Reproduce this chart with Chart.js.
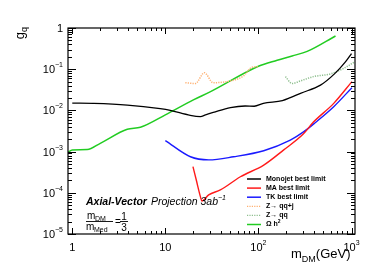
<!DOCTYPE html>
<html>
<head>
<meta charset="utf-8">
<script src="https://cdn.jsdelivr.net/npm/chart.js@4"></script>
<style>
  body { margin: 0; background: #fff; }
  canvas { display: block; }
</style>
</head>
<body>
<canvas id="limitChart" width="374" height="270"></canvas>
<script>
// Axial-vector coupling limits vs DM mass

var monojetMass = [1, 1.7, 3.9, 8.8, 11.3, 18.5, 23.8, 27, 32.7, 50, 72, 90, 113, 181, 220, 283, 464, 660, 860, 1000];
var monojetG = [0.015, 0.0148, 0.0135, 0.011, 0.010, 0.0076, 0.0071, 0.0078, 0.0089, 0.0117, 0.0128, 0.0126, 0.0148, 0.0173, 0.0204, 0.026, 0.041, 0.078, 0.15, 0.24];

var maMass = [19.8, 21.5, 23.8, 24.7, 29.2, 39, 64, 114, 187, 305, 390, 644, 1010];
var maG = [0.00043, 0.000204, 0.000081, 0.000063, 0.000089, 0.000117, 0.000245, 0.00047, 0.0011, 0.0027, 0.0052, 0.0148, 0.05];

var tkMass = [10, 18.6, 29.2, 54, 114, 220, 305, 410, 644, 1010];
var tkG = [0.00185, 0.00075, 0.00063, 0.00075, 0.00105, 0.0019, 0.0030, 0.0051, 0.0123, 0.0356];

var zqqjMass = [16.4, 21, 26.3, 32.6, 50, 69, 85, 100];
var zqqjG = [0.047, 0.045, 0.082, 0.047, 0.052, 0.068, 0.111, 0.115];

var zqqMass = [195, 230, 283, 390, 593, 825, 1090];
var zqqG = [0.066, 0.045, 0.052, 0.066, 0.077, 0.105, 0.152];

var relicMass = [0.9, 1, 1.45, 2, 3.9, 5.4, 10, 20, 30.6, 100, 159, 230, 334, 673];
var relicG = [0.00096, 0.0011, 0.00112, 0.00159, 0.0035, 0.0039, 0.0078, 0.018, 0.0285, 0.118, 0.165, 0.21, 0.27, 0.64];

var xTicks = [1, 10, 100, 1000];
var xTickBase = ['1', '10', '10', '10'];
var xTickExp = ['', '', '2', '3'];
var yTicks = [1, 0.1, 0.01, 0.001, 0.0001, 0.00001];
var yTickBase = ['1', '10', '10', '10', '10', '10'];
var yTickExp = ['', '\u22121', '\u22122', '\u22123', '\u22124', '\u22125'];

function pts(xs, ys) {
    return xs.map(function (x, i) { return { x: x, y: ys[i] }; });
}

var FONT = '"Liberation Sans", Arial, sans-serif';

function drawSup(ctx, base, exp, x, y, size, align) {
    ctx.font = size + 'px ' + FONT;
    var wb = ctx.measureText(base).width;
    ctx.font = Math.round(size * 0.65) + 'px ' + FONT;
    var we = exp ? ctx.measureText(exp).width : 0;
    var total = wb + we;
    var x0 = align === 'right' ? x - total : (align === 'center' ? x - total / 2 : x);
    ctx.textAlign = 'left';
    ctx.textBaseline = 'middle';
    ctx.font = size + 'px ' + FONT;
    ctx.fillText(base, x0, y);
    if (exp) {
        ctx.font = Math.round(size * 0.65) + 'px ' + FONT;
        ctx.fillText(exp, x0 + wb, y - size * 0.45);
    }
}

var framePlugin = {
    id: 'frame',
    afterDraw: function (chart) {
        var ctx = chart.ctx;
        var a = chart.chartArea;
        var xs = chart.scales.x, ys = chart.scales.y;
        ctx.save();
        ctx.strokeStyle = '#000';
        ctx.fillStyle = '#000';
        ctx.lineWidth = 1.2;
        ctx.strokeRect(a.left, a.top, a.right - a.left, a.bottom - a.top);

        // x ticks (bottom and top)
        ctx.lineWidth = 1;
        ctx.beginPath();
        for (var d = 0; d < 4; d++) {
            for (var k = 1; k <= 9; k++) {
                var v = k * Math.pow(10, d);
                if (v < xs.min || v > xs.max) continue;
                var px = Math.round(xs.getPixelForValue(v)) + 0.5;
                var len = k === 1 ? 6 : 3;
                ctx.moveTo(px, a.bottom); ctx.lineTo(px, a.bottom - len);
                ctx.moveTo(px, a.top); ctx.lineTo(px, a.top + len);
            }
        }
        // y ticks (left and right)
        for (var e = -5; e <= 0; e++) {
            for (var m = 1; m <= 9; m++) {
                var vy = m * Math.pow(10, e);
                if (vy < ys.min || vy > ys.max * 1.0001) continue;
                var py = Math.round(ys.getPixelForValue(vy)) + 0.5;
                var ly = m === 1 ? 8 : 4;
                ctx.moveTo(a.left, py); ctx.lineTo(a.left + ly, py);
                ctx.moveTo(a.right, py); ctx.lineTo(a.right - ly, py);
            }
        }
        ctx.stroke();

        // tick labels
        xTicks.forEach(function (v, i) {
            drawSup(ctx, xTickBase[i], xTickExp[i], xs.getPixelForValue(v), 248, 11, 'center');
        });
        yTicks.forEach(function (v, i) {
            drawSup(ctx, yTickBase[i], yTickExp[i], a.left - 5, ys.getPixelForValue(v) + 1, 11, 'right');
        });

        // axis titles
        ctx.textBaseline = 'alphabetic';
        ctx.textAlign = 'left';
        ctx.font = '13px ' + FONT;
        var tx = 291;
        ctx.fillText('m', tx, 258);
        tx += ctx.measureText('m').width;
        ctx.font = '9px ' + FONT;
        ctx.fillText('DM', tx, 262);
        tx += ctx.measureText('DM').width;
        ctx.font = '13px ' + FONT;
        ctx.fillText('(GeV)', tx, 258);

        ctx.save();
        ctx.translate(24, 26);
        ctx.rotate(-Math.PI / 2);
        ctx.font = '13px ' + FONT;
        ctx.textAlign = 'right';
        ctx.fillText('g', -6, 0);
        ctx.font = '9px ' + FONT;
        ctx.textAlign = 'left';
        ctx.fillText('q', -6, 3);
        ctx.restore();

        // annotation
        ctx.textAlign = 'left';
        ctx.font = 'italic bold 10.5px ' + FONT;
        ctx.fillText('Axial-Vector', 86, 205);
        var w1 = ctx.measureText('Axial-Vector').width;
        ctx.font = 'italic 10.5px ' + FONT;
        ctx.fillText('Projection 3ab', 86 + w1 + 4, 205);
        var w2 = ctx.measureText('Projection 3ab').width;
        ctx.font = 'italic 7px ' + FONT;
        ctx.fillText('\u22121', 86 + w1 + 4 + w2, 200);

        ctx.font = '10px ' + FONT;
        ctx.fillText('m', 87, 219);
        ctx.font = '7px ' + FONT;
        ctx.fillText('DM', 95, 221);
        ctx.font = '10px ' + FONT;
        ctx.fillText('m', 86, 230);
        ctx.font = '7px ' + FONT;
        ctx.fillText('Med', 94, 232);
        ctx.fillRect(86, 221, 27, 0.9);
        ctx.font = '10px ' + FONT;
        ctx.fillText('=', 115, 225);
        ctx.textAlign = 'center';
        ctx.fillText('1', 124, 220);
        ctx.fillRect(120, 221, 8, 0.9);
        ctx.fillText('3', 124, 231);

        // legend
        ctx.textAlign = 'left';
        ctx.textBaseline = 'middle';
        ctx.font = 'bold 7px ' + FONT;
        chart.data.datasets.forEach(function (ds, i) {
            var ly = 179 + i * 9.1;
            ctx.strokeStyle = ds.borderColor;
            ctx.lineWidth = ds.borderDash ? 1.2 : 1.5;
            ctx.setLineDash(ds.borderDash || []);
            ctx.beginPath();
            ctx.moveTo(247, ly);
            ctx.lineTo(261, ly);
            ctx.stroke();
            ctx.setLineDash([]);
            ctx.fillStyle = '#000';
            if (ds.label === '\u03A9 h2') {
                ctx.fillText('\u03A9 h', 266, ly);
                var wl = ctx.measureText('\u03A9 h').width;
                ctx.font = 'bold 5px ' + FONT;
                ctx.fillText('2', 266 + wl, ly - 3);
                ctx.font = 'bold 7px ' + FONT;
            } else {
                ctx.fillText(ds.label, 266, ly);
            }
        });
        ctx.restore();
    }
};

var ctx = document.getElementById('limitChart').getContext('2d');
var limitChart = new Chart(ctx, {
    type: 'line',
    data: {
        datasets: [{
            label: 'Monojet best limit',
            data: pts(monojetMass, monojetG),
            borderColor: '#000000',
            borderWidth: 1.3
        }, {
            label: 'MA best limit',
            data: pts(maMass, maG),
            borderColor: '#ff1a1a',
            borderWidth: 1.4
        }, {
            label: 'TK best limit',
            data: pts(tkMass, tkG),
            borderColor: '#1a1aff',
            borderWidth: 1.4
        }, {
            label: 'Z\u2192 qq+j',
            data: pts(zqqjMass, zqqjG),
            borderColor: '#ffb070',
            borderWidth: 1.5,
            borderDash: [1.2, 1.2]
        }, {
            label: 'Z\u2192 qq',
            data: pts(zqqMass, zqqG),
            borderColor: '#8fbf8f',
            borderWidth: 1.5,
            borderDash: [1.2, 1.2]
        }, {
            label: '\u03A9 h2',
            data: pts(relicMass, relicG),
            borderColor: '#22cc22',
            borderWidth: 1.5
        }]
    },
    options: {
        responsive: false,
        animation: false,
        devicePixelRatio: 1,
        layout: { padding: { left: 68, right: 19, top: 28, bottom: 36 } },
        elements: {
            point: { radius: 0 },
            line: { cubicInterpolationMode: 'monotone', fill: false }
        },
        plugins: {
            legend: { display: false },
            tooltip: { enabled: false }
        },
        scales: {
            x: { type: 'logarithmic', min: 0.9, max: 1090, display: false },
            y: { type: 'logarithmic', min: 0.00001, max: 1, display: false }
        }
    },
    plugins: [framePlugin]
});
</script>
</body>
</html>
